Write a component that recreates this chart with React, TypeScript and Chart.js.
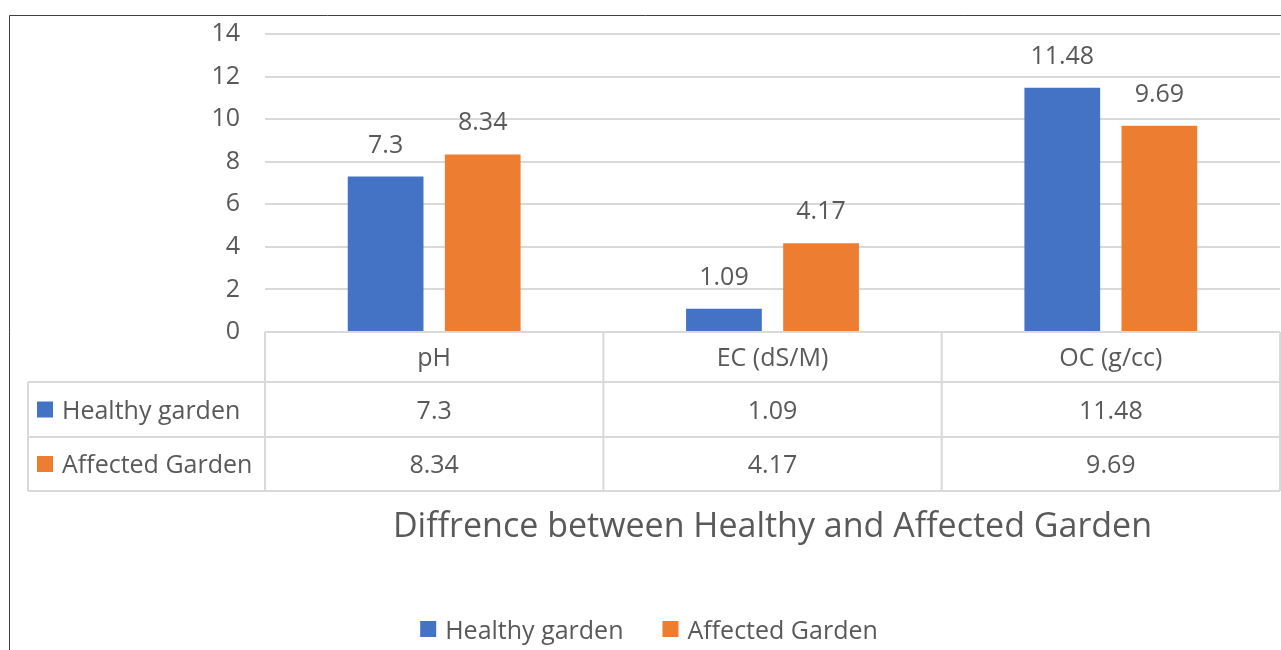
import { useEffect, useRef } from "react";
import { Chart, registerables } from "chart.js";

Chart.register(...registerables);

const categories = ["pH", "EC (dS/M)", "OC (g/cc)"];
const healthyValues = [7.3, 1.09, 11.48];
const affectedValues = [8.34, 4.17, 9.69];
const seriesNames = ["Healthy garden", "Affected Garden"];
const seriesColors = ["#4472C4", "#ED7D31"];
const yMin = 0;
const yMax = 14;
const yStep = 2;
const titleText = "Diffrence between Healthy and Affected Garden";

const FONT = '"Open Sans", sans-serif';
const TEXT = "#595959";
const LINE = "#D9D9D9";

const overlayPlugin = {
  id: "overlay",
  afterDatasetsDraw(chart: any) {
    const ctx = chart.ctx;
    ctx.save();
    ctx.font = `25px ${FONT}`;
    ctx.fillStyle = TEXT;
    ctx.textAlign = "center";
    ctx.textBaseline = "alphabetic";
    chart.data.datasets.forEach((ds: any, di: number) => {
      const meta = chart.getDatasetMeta(di);
      meta.data.forEach((bar: any, i: number) => {
        ctx.fillText(String(ds.data[i]), bar.x, bar.y - 24);
      });
    });
    ctx.restore();
  },
  afterDraw(chart: any) {
    const ctx = chart.ctx;
    const area = chart.chartArea;
    const n = categories.length;
    const colW = (area.right - area.left) / n;
    const labelLeft = 28;
    const top = area.bottom;
    const hB = top + 50;
    const r1B = top + 105;
    const r2B = top + 159;

    ctx.save();
    // table lines
    ctx.strokeStyle = LINE;
    ctx.lineWidth = 2;
    ctx.beginPath();
    ctx.moveTo(area.left, top);
    ctx.lineTo(area.right, top);
    [hB, r1B, r2B].forEach((y) => {
      ctx.moveTo(labelLeft, y);
      ctx.lineTo(area.right, y);
    });
    for (let i = 0; i <= n; i++) {
      const x = area.left + i * colW;
      ctx.moveTo(x, top);
      ctx.lineTo(x, r2B);
    }
    ctx.moveTo(labelLeft, hB);
    ctx.lineTo(labelLeft, r2B);
    ctx.stroke();

    // table text
    ctx.font = `25px ${FONT}`;
    ctx.fillStyle = TEXT;
    ctx.textBaseline = "middle";
    ctx.textAlign = "center";
    const rows = [
      { y: (top + hB) / 2 + 2, vals: categories },
      { y: (hB + r1B) / 2 + 2, vals: healthyValues.map(String) },
      { y: (r1B + r2B) / 2 + 2, vals: affectedValues.map(String) },
    ];
    rows.forEach((row) => {
      row.vals.forEach((v, i) => {
        ctx.fillText(v, area.left + (i + 0.5) * colW, row.y);
      });
    });
    ctx.textAlign = "left";
    [rows[1].y, rows[2].y].forEach((y, si) => {
      ctx.fillStyle = seriesColors[si];
      ctx.fillRect(labelLeft + 9, y - 10, 16, 16);
      ctx.fillStyle = TEXT;
      ctx.fillText(seriesNames[si], labelLeft + 34, y);
    });

    // title
    ctx.font = `34px ${FONT}`;
    ctx.textAlign = "center";
    ctx.textBaseline = "alphabetic";
    ctx.fillStyle = TEXT;
    ctx.fillText(titleText, (area.left + area.right) / 2, 537);

    // legend
    ctx.font = `25px ${FONT}`;
    const box = 16;
    const gapBox = 9;
    const gapItem = 39;
    const widths = seriesNames.map((s) => ctx.measureText(s).width);
    const total = widths.reduce((a, w) => a + box + gapBox + w, 0) + gapItem * (seriesNames.length - 1);
    let x = 649 - total / 2;
    const baseY = 639;
    ctx.textAlign = "left";
    seriesNames.forEach((s, i) => {
      ctx.fillStyle = seriesColors[i];
      ctx.fillRect(x, baseY - 18, box, box);
      x += box + gapBox;
      ctx.fillStyle = TEXT;
      ctx.fillText(s, x, baseY);
      x += widths[i] + gapItem;
    });

    // outer border
    ctx.strokeStyle = "#404040";
    ctx.lineWidth = 1;
    ctx.beginPath();
    ctx.moveTo(9.5, 650);
    ctx.lineTo(9.5, 15.5);
    ctx.lineTo(1281, 15.5);
    ctx.stroke();
    ctx.restore();
  },
};

export default function App() {
  const ref = useRef<HTMLCanvasElement | null>(null);
  useEffect(() => {
    if (!ref.current) return;
    const chart = new Chart(ref.current, {
      type: "bar",
      data: {
        labels: categories,
        datasets: [
          {
            label: seriesNames[0],
            data: healthyValues,
            backgroundColor: seriesColors[0],
            barPercentage: 0.78,
            categoryPercentage: 0.574,
          },
          {
            label: seriesNames[1],
            data: affectedValues,
            backgroundColor: seriesColors[1],
            barPercentage: 0.78,
            categoryPercentage: 0.574,
          },
        ],
      },
      options: {
        responsive: false,
        animation: false,
        devicePixelRatio: 1,
        layout: { padding: { left: 0, right: 1, top: 34, bottom: 318 } },
        plugins: {
          legend: { display: false },
          title: { display: false },
          tooltip: { enabled: false },
        },
        scales: {
          x: { display: false },
          y: {
            min: yMin,
            max: yMax,
            ticks: {
              stepSize: yStep,
              color: TEXT,
              font: { family: FONT, size: 25 },
              padding: 0,
            },
            grid: {
              color: LINE,
              lineWidth: 2,
              drawTicks: true,
              tickLength: 25,
              tickColor: "rgba(0,0,0,0)",
            },
            border: { display: false },
            afterFit: (scale: any) => {
              scale.width = 265;
            },
          },
        },
      },
      plugins: [overlayPlugin],
    });
    if ((document as any).fonts && (document as any).fonts.load) {
      (document as any).fonts.load(`25px ${FONT}`).then(() => chart.update()).catch(() => {});
    }
    return () => chart.destroy();
  }, []);
  return (
    <div style={{ position: "absolute", left: 0, top: 0, width: 1281, height: 650, background: "#fff" }}>
      <canvas ref={ref} width={1281} height={650} style={{ display: "block" }} />
    </div>
  );
}
